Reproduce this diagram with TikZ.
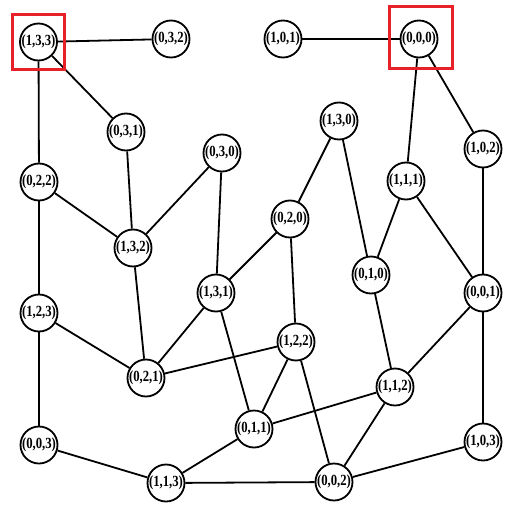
\documentclass[tikz,border=0pt]{standalone}
\usepackage{fontspec}
\usepackage{graphicx}
\setmainfont{Liberation Serif}
\begin{document}
\begin{tikzpicture}[x=1pt,y=-1pt,
  state/.style={circle,draw=black,line width=1.8pt,fill=white,minimum size=37pt,inner sep=0pt,
    font=\fontsize{15.5}{15.5}\selectfont\bfseries},
  link/.style={draw=black,line width=1.8pt},
  mark box/.style={draw={rgb,255:red,232;green,32;blue,40},line width=2.5pt}]
% a state label: slightly narrowed, and taking no width so the circle keeps its size
\newcommand\stlabel[1]{\makebox[0pt][c]{\scalebox{0.82}[1]{#1}}}
\useasboundingbox (0,0) rectangle (522,522);
% states
\node[state] (n133) at (38.5,42) {\stlabel{(1,3,3)}};
\node[state] (n032) at (171,39) {\stlabel{(0,3,2)}};
\node[state] (n031) at (126,132) {\stlabel{(0,3,1)}};
\node[state] (n030) at (222,153) {\stlabel{(0,3,0)}};
\node[state] (n022) at (39,182) {\stlabel{(0,2,2)}};
\node[state] (n132) at (133,248) {\stlabel{(1,3,2)}};
\node[state] (n101) at (283,39) {\stlabel{(1,0,1)}};
\node[state] (n000) at (419,39) {\stlabel{(0,0,0)}};
\node[state] (n130) at (339,121) {\stlabel{(1,3,0)}};
\node[state] (n102) at (483,149) {\stlabel{(1,0,2)}};
\node[state] (n111) at (406,181) {\stlabel{(1,1,1)}};
\node[state] (n020) at (290,219) {\stlabel{(0,2,0)}};
\node[state] (n123) at (39,313) {\stlabel{(1,2,3)}};
\node[state] (n131) at (216,293) {\stlabel{(1,3,1)}};
\node[state] (n021) at (146,378) {\stlabel{(0,2,1)}};
\node[state] (n003) at (39,445) {\stlabel{(0,0,3)}};
\node[state] (n113) at (166,483) {\stlabel{(1,1,3)}};
\node[state] (n011) at (254,429) {\stlabel{(0,1,1)}};
\node[state] (n010) at (371,275) {\stlabel{(0,1,0)}};
\node[state] (n001) at (483,293) {\stlabel{(0,0,1)}};
\node[state] (n122) at (296,342) {\stlabel{(1,2,2)}};
\node[state] (n112) at (395,387) {\stlabel{(1,1,2)}};
\node[state] (n103) at (483,442) {\stlabel{(1,0,3)}};
\node[state] (n002) at (334,482) {\stlabel{(0,0,2)}};
% transitions
\foreach \a/\b in {n133/n032,n133/n031,n133/n022,n031/n132,n022/n132,n030/n132,
  n030/n131,n022/n123,n132/n021,n123/n021,n131/n021,n021/n122,n131/n011,n131/n020,
  n123/n003,n003/n113,n113/n011,n113/n002,n101/n000,n000/n111,n000/n102,n130/n020,
  n130/n010,n111/n010,n111/n001,n102/n001,n020/n122,n122/n011,n122/n002,n010/n112,
  n001/n112,n011/n112,n112/n002,n001/n103,n103/n002}
  \draw[link] (\a) -- (\b);
% highlighted states
\draw[mark box] (12.3,14.3) rectangle (64.7,69.7);
\draw[mark box] (389.3,6.3) rectangle (452.7,68.7);
\end{tikzpicture}
\end{document}
